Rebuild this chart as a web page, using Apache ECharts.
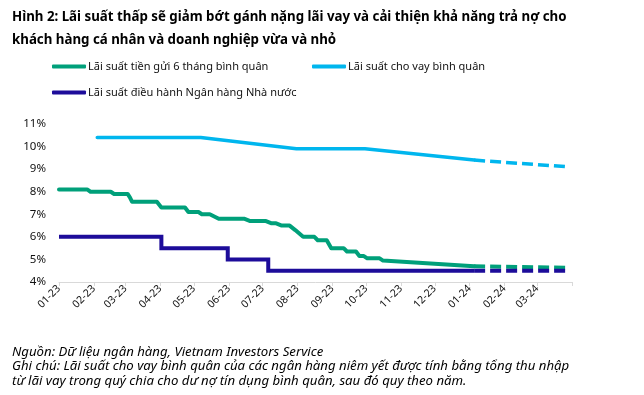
<!DOCTYPE html>
<html>
<head>
<meta charset="utf-8">
<script src="https://cdn.jsdelivr.net/npm/echarts@6/dist/echarts.min.js"></script>
<style>
  html, body { margin: 0; padding: 0; background: #fff; }
  #chart { width: 644px; height: 395px; }
</style>
</head>
<body>
<div id="chart"></div>
<script>
// ---- Data ----
const seriesNames = [
  'Lãi suất tiền gửi 6 tháng bình quân',
  'Lãi suất cho vay bình quân',
  'Lãi suất điều hành Ngân hàng Nhà nước'
];

// Average 6-month deposit rate (solid, actual)
const depositDates = ['2023-01-01','2023-01-26','2023-01-29','2023-02-16','2023-02-19','2023-03-03','2023-03-05','2023-03-07','2023-03-29','2023-04-02','2023-04-23','2023-04-26','2023-05-05','2023-05-08','2023-05-15','2023-05-23','2023-06-15','2023-06-20','2023-07-04','2023-07-09','2023-07-13','2023-07-18','2023-07-25','2023-07-30','2023-08-06','2023-08-16','2023-08-19','2023-08-27','2023-08-31','2023-09-11','2023-09-14','2023-09-22','2023-09-25','2023-09-29','2023-10-02','2023-10-13','2023-10-16','2024-01-05'];
const depositValues = [8.1,8.1,8.0,8.0,7.9,7.9,7.75,7.55,7.55,7.3,7.3,7.1,7.1,7.0,7.0,6.8,6.8,6.7,6.7,6.6,6.6,6.5,6.5,6.3,6.0,6.0,5.85,5.85,5.5,5.5,5.35,5.35,5.15,5.15,5.05,5.05,4.95,4.7];
// Deposit rate forecast (dashed)
const depositFcDates = ['2024-01-05','2024-03-29'];
const depositFcValues = [4.7, 4.63];

// Average lending rate (solid)
const lendingDates = ['2023-02-04','2023-05-07','2023-07-31','2023-09-30','2024-01-05'];
const lendingValues = [10.4, 10.4, 9.9, 9.9, 9.4];
// Lending rate forecast (dashed)
const lendingFcDates = ['2024-01-05','2024-03-29'];
const lendingFcValues = [9.4, 9.1];

// SBV policy (refinancing) rate (solid, step)
const policyDates = ['2023-01-01','2023-04-02','2023-05-31','2023-07-06','2024-01-05'];
const policyValues = [6.0, 5.5, 5.0, 4.5, 4.5];
// Policy rate forecast (dashed)
const policyFcDates = ['2024-01-05','2024-03-29'];
const policyFcValues = [4.5, 4.5];

// Axis
const xMin = '2023-01-01';
const xMax = '2024-04-01';
const yMin = 4, yMax = 11, yStep = 1;

// Texts
const titleText = 'Hình 2: Lãi suất thấp sẽ giảm bớt gánh nặng lãi vay và cải thiện khả năng trả nợ cho\nkhách hàng cá nhân và doanh nghiệp vừa và nhỏ';
const noteText = 'Nguồn: Dữ liệu ngân hàng, Vietnam Investors Service\nGhi chú: Lãi suất cho vay bình quân của các ngân hàng niêm yết được tính bằng tổng thu nhập\ntừ lãi vay trong quý chia cho dư nợ tín dụng bình quân, sau đó quy theo năm.';

// ---- Styling ----
const FONT = 'Noto Sans';
const GREEN = '#00A07A';
const LIGHT = '#00B6EE';
const NAVY = '#1D0C9A';

function pairs(d, v) { return d.map((x, i) => [x, v[i]]); }
function pad2(n) { return (n < 10 ? '0' : '') + n; }

const chart = echarts.init(document.getElementById('chart'), null, { renderer: 'canvas' });

function legendItem(name, color, left, top) {
  return {
    data: [name],
    left: left, top: top,
    padding: 0,
    icon: 'roundRect',
    itemWidth: 34, itemHeight: 4,
    itemStyle: { color: color },
    textStyle: { fontFamily: FONT, fontSize: 11, color: '#111', padding: [0, 0, 0, -3] },
    selectedMode: false
  };
}

chart.setOption({
  animation: false,
  textStyle: { fontFamily: FONT },
  title: [
    {
      text: titleText,
      left: 12, top: 6, padding: 0,
      textStyle: { fontFamily: FONT, fontSize: 13.3, fontWeight: 'bold', color: '#000', lineHeight: 22.5 }
    },
    {
      text: noteText,
      left: 12, top: 345, padding: 0,
      textStyle: { fontFamily: FONT, fontSize: 13.2, fontStyle: 'italic', fontWeight: 'normal', color: '#000', lineHeight: 14.4 }
    }
  ],
  legend: [
    legendItem(seriesNames[0], GREEN, 52, 61),
    legendItem(seriesNames[1], LIGHT, 312, 61),
    legendItem(seriesNames[2], NAVY, 52, 87)
  ],
  grid: { left: 59, right: 72, top: 124, bottom: 113 },
  xAxis: {
    type: 'time',
    min: xMin, max: xMax,
    splitNumber: 15,
    minInterval: 28 * 86400000,
    maxInterval: 31 * 86400000,
    axisLine: { lineStyle: { color: '#d9d9d9', width: 1 } },
    axisTick: { show: true, length: 4, lineStyle: { color: '#d9d9d9' } },
    splitLine: { show: false },
    axisLabel: {
      formatter: function (value) {
        const d = new Date(value);
        const s = pad2(d.getMonth() + 1) + '-' + pad2(d.getFullYear() % 100);
        const m = new Date(2024, 3, 1).getTime();
        return value >= m - 86400000 ? '' : s;
      },
      rotate: 45,
      fontFamily: FONT, fontSize: 10.5, color: '#111',
      hideOverlap: false,
      margin: 5
    }
  },
  yAxis: {
    type: 'value',
    min: yMin, max: yMax, interval: yStep,
    axisLine: { show: false },
    axisTick: { show: false },
    splitLine: { show: false },
    axisLabel: { formatter: '{value}%', fontFamily: FONT, fontSize: 11.5, color: '#111', margin: 13 }
  },
  series: [
    {
      name: seriesNames[0], type: 'line', symbol: 'none', z: 2,
      data: pairs(depositDates, depositValues),
      lineStyle: { color: GREEN, width: 4, cap: 'round', join: 'round' },
      itemStyle: { color: GREEN }
    },
    {
      name: seriesNames[0], type: 'line', symbol: 'none', z: 2,
      data: pairs(depositFcDates, depositFcValues),
      lineStyle: { color: GREEN, width: 4, type: [11, 5] },
      itemStyle: { color: GREEN }
    },
    {
      name: seriesNames[1], type: 'line', symbol: 'none', z: 3,
      data: pairs(lendingDates, lendingValues),
      lineStyle: { color: LIGHT, width: 3.5, cap: 'round', join: 'round' },
      itemStyle: { color: LIGHT }
    },
    {
      name: seriesNames[1], type: 'line', symbol: 'none', z: 3,
      data: pairs(lendingFcDates, lendingFcValues),
      lineStyle: { color: LIGHT, width: 3.5, type: [11, 5] },
      itemStyle: { color: LIGHT }
    },
    {
      name: seriesNames[2], type: 'line', symbol: 'none', step: 'end', z: 4,
      data: pairs(policyDates, policyValues),
      lineStyle: { color: NAVY, width: 4, join: 'miter' },
      itemStyle: { color: NAVY }
    },
    {
      name: seriesNames[2], type: 'line', symbol: 'none', z: 4,
      data: pairs(policyFcDates, policyFcValues),
      lineStyle: { color: NAVY, width: 4, type: [11, 5] },
      itemStyle: { color: NAVY }
    }
  ]
});
</script>
</body>
</html>
